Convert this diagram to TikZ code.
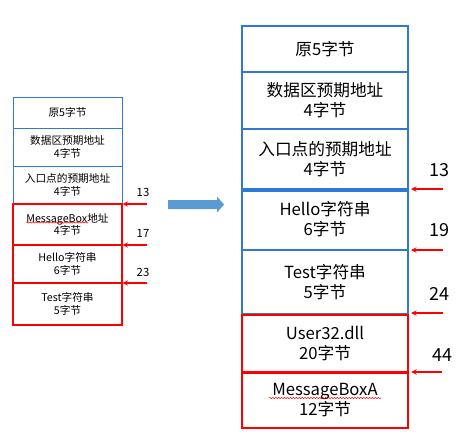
\documentclass[tikz,border=0pt]{standalone}
\usepackage{fontspec}
\setmainfont{Noto Sans CJK SC}
\usetikzlibrary{decorations.pathmorphing}
\definecolor{boxblue}{RGB}{46,120,214}
\definecolor{arrblue}{RGB}{91,155,213}
\definecolor{boxred}{RGB}{255,0,0}

\begin{document}
\begin{tikzpicture}[x=0.75pt,y=-0.75pt,
   blkL/.style={draw,inner sep=0pt,minimum width=81.75pt,align=center,
      font=\fontsize{8}{9.5}\selectfont},
   blkR/.style={draw,inner sep=0pt,minimum width=124.5pt,align=center,
      font=\fontsize{12.5}{15}\selectfont},
   numL/.style={font=\fontsize{8.5}{10}\selectfont},
   numR/.style={font=\fontsize{13.5}{15}\selectfont},
   redarr/.style={boxred,thick,-stealth},
   squig/.style={boxred,line width=0.4pt,decorate,
      decoration={snake,amplitude=0.45pt,segment length=2.2pt}}]
   \useasboundingbox (0,0) rectangle (468,444);
   % left column
   \node[blkL,draw=boxblue,minimum height=23.25pt] (l1) at (67.5,112.5) {原5字节};
   \node[blkL,draw=boxblue,minimum height=28.5pt] (l2) at (67.5,147) {数据区预期地址\\4字节};
   \node[blkL,draw=boxblue,minimum height=28.5pt] (l3) at (67.5,185) {入口点的预期地址\\4字节};
   \node[blkL,draw=boxred,thick,minimum height=30.75pt] (l4) at (67.5,224.5) {MessageBox地址\\4字节};
   \node[blkL,draw=boxred,thick,minimum height=28.5pt] (l5) at (67.5,264) {Hello字符串\\6字节};
   \node[blkL,draw=boxred,thick,minimum height=31.5pt] (l6) at (67.5,304) {Test字符串\\5字节};
   \draw[squig] (26,222.5) -- (88,222.5);
   % left offsets
   \node[numL] (n13) at (143,192) {13};
   \node[numL] (n17) at (143,233) {17};
   \node[numL] (n23) at (143,272) {23};
   \coordinate (p13) at (147,204);
   \coordinate (p17) at (147,245);
   \coordinate (p23) at (147,283);
   \draw[redarr] (p13) -- (p13 -| l4.east);
   \draw[redarr] (p17) -- (p17 -| l5.east);
   \draw[redarr] (p23) -- (p23 -| l6.east);
   % big arrow
   \fill[arrblue] (168,200) -- (217,200) -- (217,196.5) -- (224,204.5)
      -- (217,212.5) -- (217,209) -- (168,209) -- cycle;
   % right column
   \node[blkR,draw=boxblue,line width=1.5pt,minimum height=34.5pt] (r1) at (325,49) {原5字节};
   \node[blkR,draw=boxblue,line width=1.5pt,minimum height=42.75pt] (r2) at (325,100.5) {数据区预期地址\\4字节};
   \node[blkR,draw=boxblue,line width=1.5pt,minimum height=45pt] (r3) at (325,159) {入口点的预期地址\\4字节};
   \node[blkR,draw=boxblue,line width=1.5pt,minimum height=45.75pt] (r4) at (325,219.5) {Hello字符串\\6字节};
   \node[blkR,draw=boxblue,line width=1.5pt,minimum height=48pt] (r5) at (325,282) {Test字符串\\5字节};
   \node[blkR,draw=boxred,line width=1.8pt,minimum height=43.5pt] (r6) at (325,344) {User32.dll\\20字节};
   \node[blkR,draw=boxred,line width=1.8pt,minimum height=42pt] (r7) at (325,400) {MessageBoxA\\12字节};
   \draw[boxblue,line width=2.6pt] (r3.south west) -- (r3.south east);
   \draw[squig] (269,398) -- (381,398);
   % right offsets
   \node[numR] (m13) at (439,170) {13};
   \node[numR] (m19) at (439,230) {19};
   \node[numR] (m24) at (439,294) {24};
   \node[numR] (m44) at (442,355) {44};
   \coordinate (q13) at (443,189);
   \coordinate (q19) at (443,250);
   \coordinate (q24) at (443,313);
   \coordinate (q44) at (442,372);
   \draw[redarr] (q13) -- ([xshift=1.5pt]q13 -| r3.east);
   \draw[redarr] (q19) -- ([xshift=1.5pt]q19 -| r4.east);
   \draw[redarr] (q24) -- ([xshift=1.5pt]q24 -| r5.east);
   \draw[redarr] (q44) -- ([xshift=1.5pt]q44 -| r6.east);
\end{tikzpicture}
\end{document}
